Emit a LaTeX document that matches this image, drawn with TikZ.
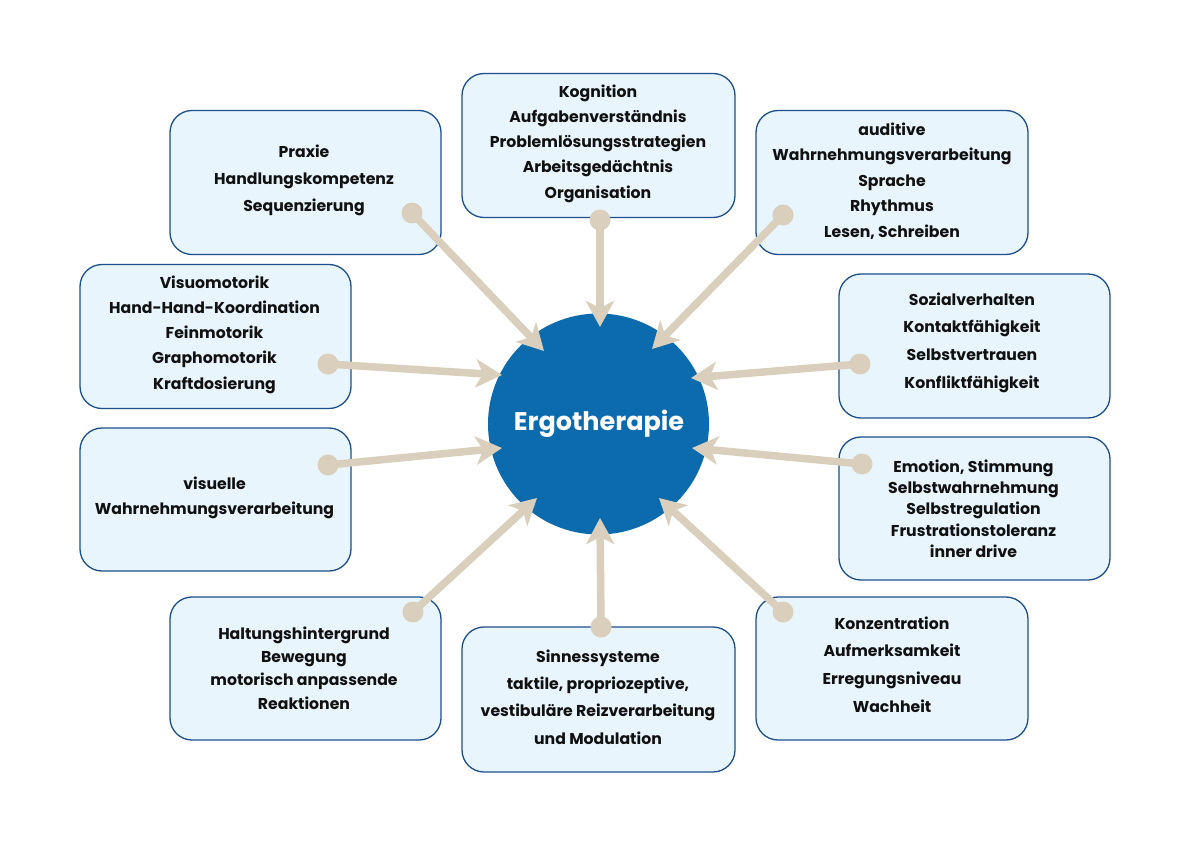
\documentclass[tikz,border=0pt]{standalone}
\usepackage{fontspec}
\setmainfont{Poppins}
\usetikzlibrary{arrows.meta}
\definecolor{boxfill}{HTML}{E8F5FD}
\definecolor{boxdraw}{HTML}{1F4F8A}
\definecolor{ergoblue}{HTML}{0B6BAD}
\definecolor{arrowc}{HTML}{D9CFBC}
\definecolor{txtc}{HTML}{111111}
\newcommand\lnsp[1]{\bfseries\fontsize{15.7}{#1}\selectfont}
\begin{document}
\begin{tikzpicture}[x=1pt,y=-1pt,
  box/.style={draw=boxdraw, line width=1.3pt, fill=boxfill, rounded corners=22pt,
    minimum width=271pt, minimum height=144pt, inner sep=0pt},
  txt/.style={align=center, text=txtc, inner sep=0pt},
  dotn/.style={circle, fill=arrowc, minimum size=21pt, inner sep=0pt},
  arr/.style={draw=arrowc, line width=7.5pt, -{Stealth[length=26pt,width=28pt,inset=7pt]}},
]
\useasboundingbox[fill=white] (0,0) rectangle (1200,848);

% boxes
\node[box] (b1) at (305.5,182.5) {};
\node[box, minimum width=273pt] (b2) at (598.5,145.5) {};
\node[box, minimum width=272pt] (b3) at (892,182.5) {};
\node[box] (b4) at (215.5,336.5) {};
\node[box] (b5) at (974.5,346) {};
\node[box, minimum height=143pt] (b6) at (215.5,499.5) {};
\node[box, minimum height=143pt] (b7) at (974.5,508.5) {};
\node[box, minimum height=143pt] (b8) at (305.5,668.5) {};
\node[box, minimum width=273pt, minimum height=145pt] (b9) at (598.5,699.5) {};
\node[box, minimum width=272pt, minimum height=143pt] (b10) at (892,668.5) {};

% texts
\node[txt, font=\lnsp{27}] (l1) at (304,180) {Praxie\\Handlungskompetenz\\Sequenzierung};
\node[txt, font=\lnsp{25.3}] (l2) at (598,143.5) {Kognition\\Aufgabenverständnis\\Problemlösungsstrategien\\Arbeitsgedächtnis\\Organisation};
\node[txt, font=\lnsp{25.5}] (l3) at (892,181) {auditive\\Wahrnehmungsverarbeitung\\Sprache\\Rhythmus\\Lesen, Schreiben};
\node[txt, font=\lnsp{25.2}] (l4) at (214.5,334.5) {Visuomotorik\\Hand-Hand-Koordination\\Feinmotorik\\Graphomotorik\\Kraftdosierung};
\node[txt, font=\lnsp{27.7}] (l5) at (972,342.5) {Sozialverhalten\\Kontaktfähigkeit\\Selbstvertrauen\\Konfliktfähigkeit};
\node[txt, font=\lnsp{25}] (l6) at (214.5,497.5) {visuelle\\Wahrnehmungsverarbeitung};
\node[txt, font=\lnsp{21.3}] (l7) at (973.5,508.5) {Emotion, Stimmung\\Selbstwahrnehmung\\Selbstregulation\\Frustrationstoleranz\\inner drive};
\node[txt, font=\lnsp{23.3}] (l8) at (304,668) {Haltungshintergrund\\Bewegung\\motorisch anpassende\\Reaktionen};
\node[txt, font=\lnsp{27.3}] (l9) at (598,697) {Sinnessysteme\\taktile, propriozeptive,\\vestibuläre Reizverarbeitung\\und Modulation};
\node[txt, font=\lnsp{27.7}] (l10) at (892,664.5) {Konzentration\\Aufmerksamkeit\\Erregungsniveau\\Wachheit};

% centre
\node[circle, fill=ergoblue, minimum size=221pt, inner sep=0pt] (ergo) at (598.5,424) {};

% arrow tips
\coordinate (t1) at (544,351);
\coordinate (t2) at (600,327);
\coordinate (t3) at (652,349);
\coordinate (t4) at (502,375);
\coordinate (t5) at (691,378);
\coordinate (t6) at (502,448);
\coordinate (t7) at (692,448);
\coordinate (t8) at (537,498);
\coordinate (t9) at (600,518);
\coordinate (t10) at (659,498);

% dots
\node[dotn] (d1) at (412,213) {};
\node[dotn] (d2) at (600,220) {};
\node[dotn] (d3) at (783,215) {};
\node[dotn] (d4) at (328,364) {};
\node[dotn] (d5) at (860,364) {};
\node[dotn] (d6) at (328,465) {};
\node[dotn] (d7) at (862,464) {};
\node[dotn] (d8) at (413,612) {};
\node[dotn] (d9) at (601,627) {};
\node[dotn] (d10) at (783,612) {};

\foreach \i in {1,...,10} {\draw[arr] (d\i.center) -- (t\i);}

\node[font=\bfseries\fontsize{25.5}{30}\selectfont, text=white] (title) at (599,424) {Ergotherapie};
\end{tikzpicture}
\end{document}
